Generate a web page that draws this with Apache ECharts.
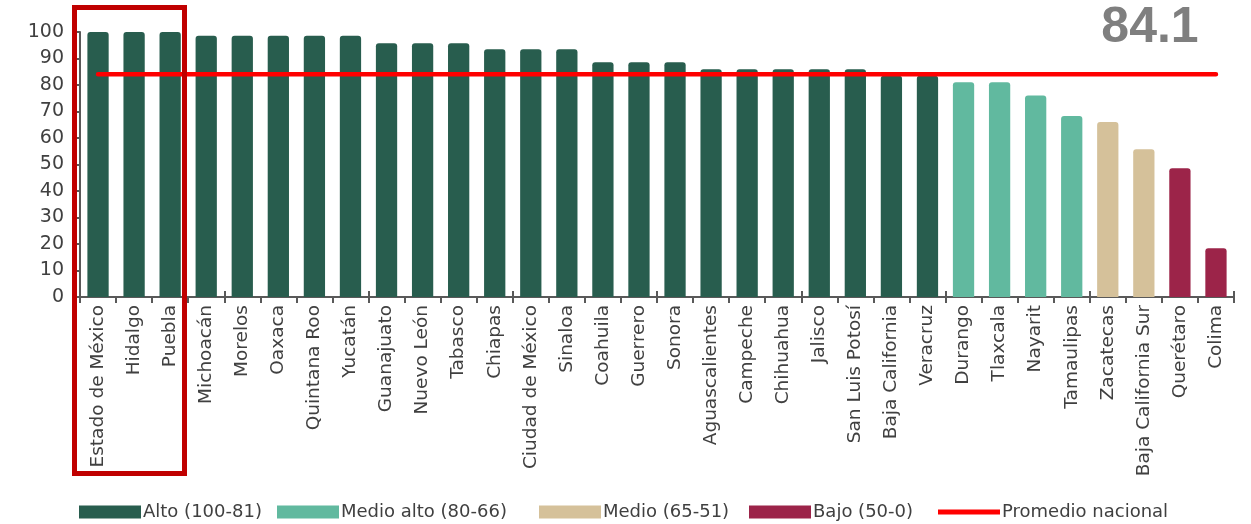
<!DOCTYPE html>
<html>
<head>
<meta charset="utf-8">
<script src="https://cdn.jsdelivr.net/npm/echarts@6/dist/echarts.min.js"></script>
<style>
html,body{margin:0;padding:0;background:#fff;}
#chart{width:1251px;height:524px;}
</style>
</head>
<body>
<div id="chart"></div>
<script>
const states = ['Estado de México','Hidalgo','Puebla','Michoacán','Morelos','Oaxaca','Quintana Roo','Yucatán','Guanajuato','Nuevo León','Tabasco','Chiapas','Ciudad de México','Sinaloa','Coahuila','Guerrero','Sonora','Aguascalientes','Campeche','Chihuahua','Jalisco','San Luis Potosí','Baja California','Veracruz','Durango','Tlaxcala','Nayarit','Tamaulipas','Zacatecas','Baja California Sur','Querétaro','Colima'];
const values = [100,100,100,98.6,98.6,98.6,98.6,98.6,95.8,95.8,95.8,93.5,93.5,93.5,88.6,88.6,88.6,85.9,85.9,85.9,85.9,85.9,83.5,83.5,81.0,81.0,76.0,68.3,66.0,55.8,48.6,18.4];
const levels = ['Alto','Alto','Alto','Alto','Alto','Alto','Alto','Alto','Alto','Alto','Alto','Alto','Alto','Alto','Alto','Alto','Alto','Alto','Alto','Alto','Alto','Alto','Alto','Alto','Medio alto','Medio alto','Medio alto','Medio alto','Medio','Medio','Bajo','Bajo'];
const levelNames = ['Alto','Medio alto','Medio','Bajo'];
const levelLabels = ['Alto (100-81)','Medio alto (80-66)','Medio (65-51)','Bajo (50-0)'];
const levelColors = ['#285D4E','#61B99F','#D5C19A','#9C2449'];
const nationalAverage = 84.1;
const averageLabel = 'Promedio nacional';
const yTicks = {min:0, max:100, interval:10};

const chart = echarts.init(document.getElementById('chart'), null, {renderer:'canvas'});
const textColor = '#404040';
const fontFam = '"DejaVu Sans", sans-serif';

const barSeries = levelNames.map((lv, i) => ({
  name: levelLabels[i],
  type: 'bar',
  stack: 'all',
  xAxisIndex: 0,
  barCategoryGap: '41%',
  itemStyle: {color: levelColors[i], borderRadius: [3,3,0,0]},
  data: values.map((v, k) => levels[k] === lv ? v : '-')
}));

const legendNames = levelLabels.concat([averageLabel]);
const legendLefts = [79, 277, 539, 749, 938];
const legends = legendNames.map((n, i) => ({
  left: legendLefts[i], top: 503, padding: 0,
  itemWidth: 62, itemHeight: 13,
  textStyle: {fontSize: 18, color: textColor, fontFamily: fontFam, padding: [0,0,0,-3]},
  data: [{name: n, icon: i < 4 ? 'rect' : 'path://M0,0 L60,0 L60,5 L0,5 Z'}]
}));

const option = {
  animation: false,
  backgroundColor: '#fff',
  grid: {left: 80, right: 17, top: 32, bottom: 227, containLabel: false},
  legend: legends,
  xAxis: [{
    type: 'category', data: states, position: 'bottom',
    axisLine: {lineStyle: {color: '#595959', width: 2}},
    axisTick: {show: true, length: 6, lineStyle: {color: '#595959', width: 2}},
    axisLabel: {rotate: 90, fontSize: 18.5, color: textColor, fontFamily: fontFam, margin: 8, interval: 0}
  },{
    type: 'category', data: states, position: 'bottom', gridIndex: 0,
    axisLine: {show: false},
    axisTick: {show: true, inside: true, length: 6, lineStyle: {color: '#595959', width: 2}},
    axisLabel: {show: false}
  }],
  yAxis: {
    type: 'value', min: yTicks.min, max: yTicks.max, interval: yTicks.interval,
    splitLine: {show: false},
    axisLine: {show: true, lineStyle: {color: '#595959', width: 2}},
    axisTick: {show: true, length: 4, lineStyle: {color: '#595959', width: 2}},
    axisLabel: {fontSize: 19, color: textColor, fontFamily: fontFam, margin: 16}
  },
  series: barSeries.concat([{
    name: averageLabel,
    type: 'line',
    xAxisIndex: 0,
    z: 5,
    symbol: 'none',
    itemStyle: {color: '#FF0000'},
    lineStyle: {color: '#FF0000', width: 4.5, cap: 'round'},
    data: states.map(() => nationalAverage)
  }]),
  graphic: [
    {type: 'rect', z: 100, shape: {x: 74.5, y: 7.5, width: 110, height: 466},
     style: {fill: 'none', stroke: '#C00000', lineWidth: 5}},
    {type: 'text', z: 100, x: 1150, y: 28,
     style: {text: String(nationalAverage), fill: '#7F7F7F', font: 'bold 50px "Liberation Sans", Arial, sans-serif', textAlign: 'center', textVerticalAlign: 'middle'}}
  ]
};
chart.setOption(option);
</script>
</body>
</html>
